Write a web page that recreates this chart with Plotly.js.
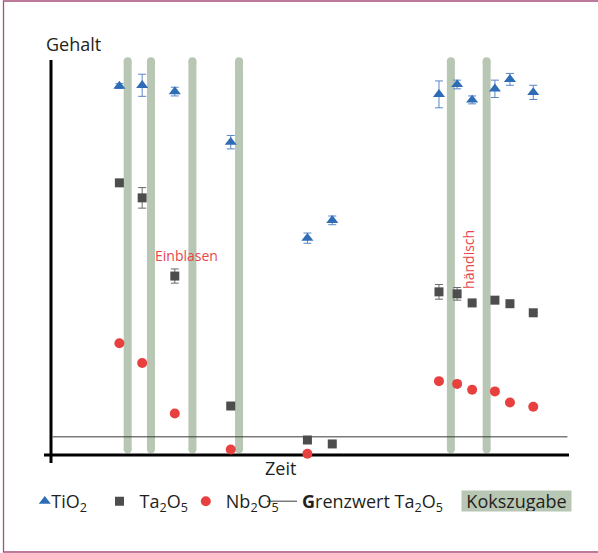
<!DOCTYPE html>
<html>
<head>
<meta charset="utf-8">
<script src="https://cdn.plot.ly/plotly-3.0.1.min.js"></script>
<style>
  html, body { margin: 0; padding: 0; background: #ffffff; }
  #chart { width: 598px; height: 553px; }
  /* tighten the gap between legend symbol and legend text, as in the reference */
  #chart g.legend text.legendtext,
  #chart g.legend2 text.legendtext,
  #chart g.legend3 text.legendtext { transform: translateX(-13.5px); }
  #chart g.legend4 text.legendtext { transform: translateX(-1.5px); }
</style>
</head>
<body>
<div id="chart"></div>
<script>
// ---- data (arbitrary units, time axis unlabeled) ----
const zeit      = [13.2, 17.6, 23.9, 34.7, 49.5, 54.3, 74.9, 78.4, 81.3, 85.7, 88.6, 93.1];
const tio2      = [93.4, 93.6, 92.0, 79.2, 54.9, 59.4, 91.3, 93.8, 89.9, 92.7, 95.1, 91.8];
const tio2Err   = [0.6, 2.8, 1.1, 1.7, 1.3, 1.1, 3.4, 1.1, 1.0, 2.2, 1.5, 1.8];
const ta2o5     = [68.9, 65.1, 45.3, 12.4, 3.8, 2.8, 41.3, 40.8, 38.5, 39.2, 38.3, 36.0];
const ta2o5Err  = [0, 2.6, 1.8, 0, 0, 0, 1.85, 1.6, 0, 0, 0, 0];
const nb2o5     = [28.3, 23.3, 10.5, 1.4, 0.3, null, 18.7, 18.0, 16.5, 16.1, 13.3, 12.2];
const grenzwertTa2o5 = 4.6;
const grenzwertSpan  = [0.3, 99.7];
const kokszugabe     = [14.8, 19.3, 27.3, 36.3, 77.2, 84.1];
const koksSpan       = [1.45, 99.7];
const legendNames = {
  tio2: 'TiO<sub>2</sub>',
  ta2o5: 'Ta<sub>2</sub>O<sub>5</sub>',
  nb2o5: 'Nb<sub>2</sub>O<sub>5</sub>',
  grenz: '<b>G</b>renzwert Ta<sub>2</sub>O<sub>5</sub>',
  koks: 'Kokszugabe'
};
const labels = { y: 'Gehalt', x: 'Zeit', einblasen: 'Einblasen', haendisch: 'händisch' };

// ---- styling / geometry ----
const W = 598, H = 553;
const M = { l: 40, r: 18, t: 50, b: 88 };
const PW = W - M.l - M.r, PH = H - M.t - M.b;
const px = v => (v - M.l) / PW;          // container px -> paper x
const py = v => (H - M.b - v) / PH;      // container px -> paper y
const FONT = '"Open Sans", "Noto Sans", sans-serif';
const TXT = '#231f20';
const RED = '#e8454a';
const GREEN = '#b8c6b4';

const traces = [
  {
    type: 'scatter', mode: 'lines', name: legendNames.grenz, legend: 'legend4',
    x: grenzwertSpan, y: [grenzwertTa2o5, grenzwertTa2o5],
    line: { color: '#3a3a3a', width: 1 }, cliponaxis: false
  },
  {
    type: 'scatter', mode: 'markers', name: legendNames.tio2, legend: 'legend',
    x: zeit, y: tio2,
    error_y: { type: 'data', array: tio2Err, visible: true, color: '#5a86c6', thickness: 1, width: 4 },
    marker: { symbol: 'triangle-up', size: 10.5, color: '#2f6cb6' }, cliponaxis: false
  },
  {
    type: 'scatter', mode: 'markers', name: legendNames.ta2o5, legend: 'legend2',
    x: zeit, y: ta2o5,
    error_y: { type: 'data', array: ta2o5Err, visible: true, color: '#6a6a6a', thickness: 1, width: 4 },
    marker: { symbol: 'square', size: 9, color: '#4d4d4d' }, cliponaxis: false
  },
  {
    type: 'scatter', mode: 'markers', name: legendNames.nb2o5, legend: 'legend3',
    x: zeit, y: nb2o5,
    marker: { symbol: 'circle', size: 10, color: '#e8403f' }, cliponaxis: false
  }
];

const shapes = [];
// Kokszugabe bands (rounded vertical bars)
kokszugabe.forEach(k => {
  shapes.push({ type: 'rect', layer: 'below', xref: 'x', yref: 'y', xsizemode: 'pixel', xanchor: k,
    x0: -4, x1: 4, y0: koksSpan[0], y1: koksSpan[1], fillcolor: GREEN, line: { width: 0 } });
  koksSpan.forEach(yy => {
    shapes.push({ type: 'circle', layer: 'below', xref: 'x', yref: 'y', xsizemode: 'pixel', ysizemode: 'pixel',
      xanchor: k, yanchor: yy, x0: -4, x1: 4, y0: -4, y1: 4, fillcolor: GREEN, line: { width: 0 } });
  });
});
// axes
shapes.push({ type: 'line', layer: 'below', xref: 'x', yref: 'y', x0: 0, x1: 0, y0: -2.03, y1: 100,
  line: { color: '#000', width: 3 } });
shapes.push({ type: 'line', layer: 'below', xref: 'x', yref: 'y', x0: -1.35, x1: 100, y0: 0, y1: 0,
  line: { color: '#000', width: 3 } });
// outer frame
shapes.push({ type: 'rect', xref: 'paper', yref: 'paper', x0: px(3.5), x1: px(610), y0: py(552), y1: py(1),
  line: { color: '#a8507c', width: 1.3 }, fillcolor: 'rgba(0,0,0,0)' });

const annotations = [
  { text: labels.y, xref: 'paper', yref: 'paper', x: px(44), y: py(44.5), xanchor: 'left', yanchor: 'middle',
    showarrow: false, font: { family: FONT, size: 18, color: TXT } },
  { text: labels.x, xref: 'paper', yref: 'paper', x: px(280.5), y: py(468), xanchor: 'center', yanchor: 'middle',
    showarrow: false, font: { family: FONT, size: 18, color: TXT } },
  { text: labels.einblasen, xref: 'x', yref: 'y', x: 26.2, y: 50.6, xanchor: 'center', yanchor: 'middle',
    showarrow: false, font: { family: FONT, size: 14, color: RED } },
  { text: labels.haendisch, xref: 'x', yref: 'y', x: 80.7, y: 49.4, xanchor: 'center', yanchor: 'middle',
    textangle: -90, showarrow: false, font: { family: FONT, size: 14, color: RED } },
  { text: legendNames.koks, xref: 'paper', yref: 'paper', x: px(516.2), y: py(501.3), xanchor: 'center', yanchor: 'middle',
    width: 109, height: 20, bgcolor: GREEN, borderpad: 0, showarrow: false,
    font: { family: FONT, size: 18, color: TXT } }
];

const legendY = 1 - 501.5 / H;
const mkLegend = L => ({
  xref: 'container', yref: 'container', x: L / W, y: legendY, xanchor: 'left', yanchor: 'middle',
  orientation: 'h', bgcolor: 'rgba(0,0,0,0)', borderwidth: 0,
  font: { family: FONT, size: 18, color: TXT }
});

const layout = {
  width: W, height: H, margin: M,
  paper_bgcolor: '#ffffff', plot_bgcolor: '#ffffff',
  font: { family: FONT, size: 18, color: TXT },
  showlegend: true,
  legend: mkLegend(24.8),
  legend2: mkLegend(99.5),
  legend3: mkLegend(185.8),
  legend4: mkLegend(262),
  xaxis: { range: [-2.124, 102.124], visible: false, fixedrange: true },
  yaxis: { range: [-2.532, 102.532], visible: false, fixedrange: true },
  shapes: shapes,
  annotations: annotations,
  hovermode: false
};

Plotly.newPlot('chart', traces, layout, { staticPlot: true, displayModeBar: false });
</script>
</body>
</html>
